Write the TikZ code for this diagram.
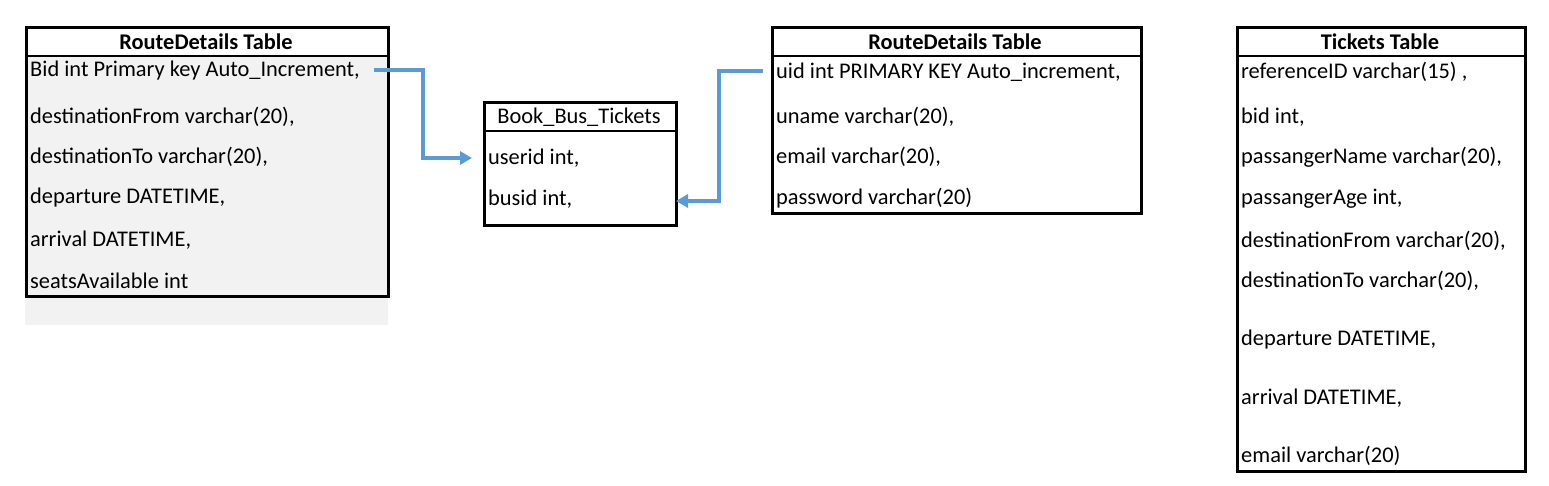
\documentclass[tikz,border=0pt]{standalone}
\usepackage{fontspec}
\setmainfont{Carlito}
\usetikzlibrary{arrows.meta}
\definecolor{linkblue}{HTML}{5B9BD5}
\definecolor{panelgray}{HTML}{F2F2F2}
\tikzset{
  tbox/.style={draw=black, line width=2.6pt, anchor=north west, inner sep=0pt},
  hline/.style={draw=black, line width=2.6pt},
  rowtext/.style={anchor=west, inner sep=0pt, font=\fontsize{22.4}{26}\selectfont},
  headtext/.style={inner sep=0pt, font=\fontsize{22.4}{26}\selectfont\bfseries},
  plainhead/.style={inner sep=0pt, font=\fontsize{22.4}{26}\selectfont},
  link/.style={draw=linkblue, line width=3.6pt, -{Triangle[length=12pt,width=13pt]}},
}
\begin{document}
\begin{tikzpicture}[x=1pt,y=-1pt]
\useasboundingbox (0,0) rectangle (1549,486);
% left table
\fill[panelgray] (25,56) rectangle (388,325);
\node[tbox, minimum width=362pt, minimum height=269pt] (L) at (25,26) {};
\draw[hline] (25,56) -- (387,56);
\node[headtext] (Lh) at (206,42) {RouteDetails Table};
\node[rowtext] (L1) at (30,71) {Bid int Primary key Auto\_Increment,};
\node[rowtext] (L2) at (30,117) {destinationFrom varchar(20),};
\node[rowtext] (L3) at (30,157) {destinationTo varchar(20),};
\node[rowtext] (L4) at (30,198) {departure DATETIME,};
\node[rowtext] (L5) at (30,240) {arrival DATETIME,};
\node[rowtext] (L6) at (30,281) {seatsAvailable int};
% middle book table
\node[tbox, minimum width=192pt, minimum height=123pt] (B) at (483,101) {};
\draw[hline] (483,131) -- (675,131);
\node[plainhead] (Bh) at (579,117) {Book\_Bus\_Tickets};
\node[rowtext] (B1) at (488,158) {userid int,};
\node[rowtext] (B2) at (488,199) {busid int,};
% second route details table
\node[tbox, minimum width=369pt, minimum height=186pt] (U) at (771,26) {};
\draw[hline] (771,56) -- (1140,56);
\node[headtext] (Uh) at (955,42) {RouteDetails Table};
\node[rowtext] (U1) at (776,72) {uid int PRIMARY KEY Auto\_increment,};
\node[rowtext] (U2) at (776,117) {uname varchar(20),};
\node[rowtext] (U3) at (776,157) {email varchar(20),};
\node[rowtext] (U4) at (776,198) {password varchar(20)};
% tickets table
\node[tbox, minimum width=288pt, minimum height=444pt] (T) at (1236,26) {};
\draw[hline] (1236,56) -- (1524,56);
\node[headtext] (Th) at (1380,42) {Tickets Table};
\node[rowtext] (T1) at (1241,72) {referenceID varchar(15) ,};
\node[rowtext] (T2) at (1241,117) {bid int,};
\node[rowtext] (T3) at (1241,157) {passangerName varchar(20),};
\node[rowtext] (T4) at (1241,199) {passangerAge int,};
\node[rowtext] (T5) at (1241,241) {destinationFrom varchar(20),};
\node[rowtext] (T6) at (1241,281) {destinationTo varchar(20),};
\node[rowtext] (T7) at (1241,340) {departure DATETIME,};
\node[rowtext] (T8) at (1241,398) {arrival DATETIME,};
\node[rowtext] (T9) at (1241,456) {email varchar(20)};
% connectors
\coordinate (s1) at (374,70);
\coordinate (e1) at (472,158);
\coordinate (s2) at (763,71);
\coordinate (e2) at (676,201);
\draw[link] (s1) -- (423,70) -- (423,158) -- (e1);
\draw[link] (s2) -- (719,71) -- (719,201) -- (e2);
\end{tikzpicture}
\end{document}
